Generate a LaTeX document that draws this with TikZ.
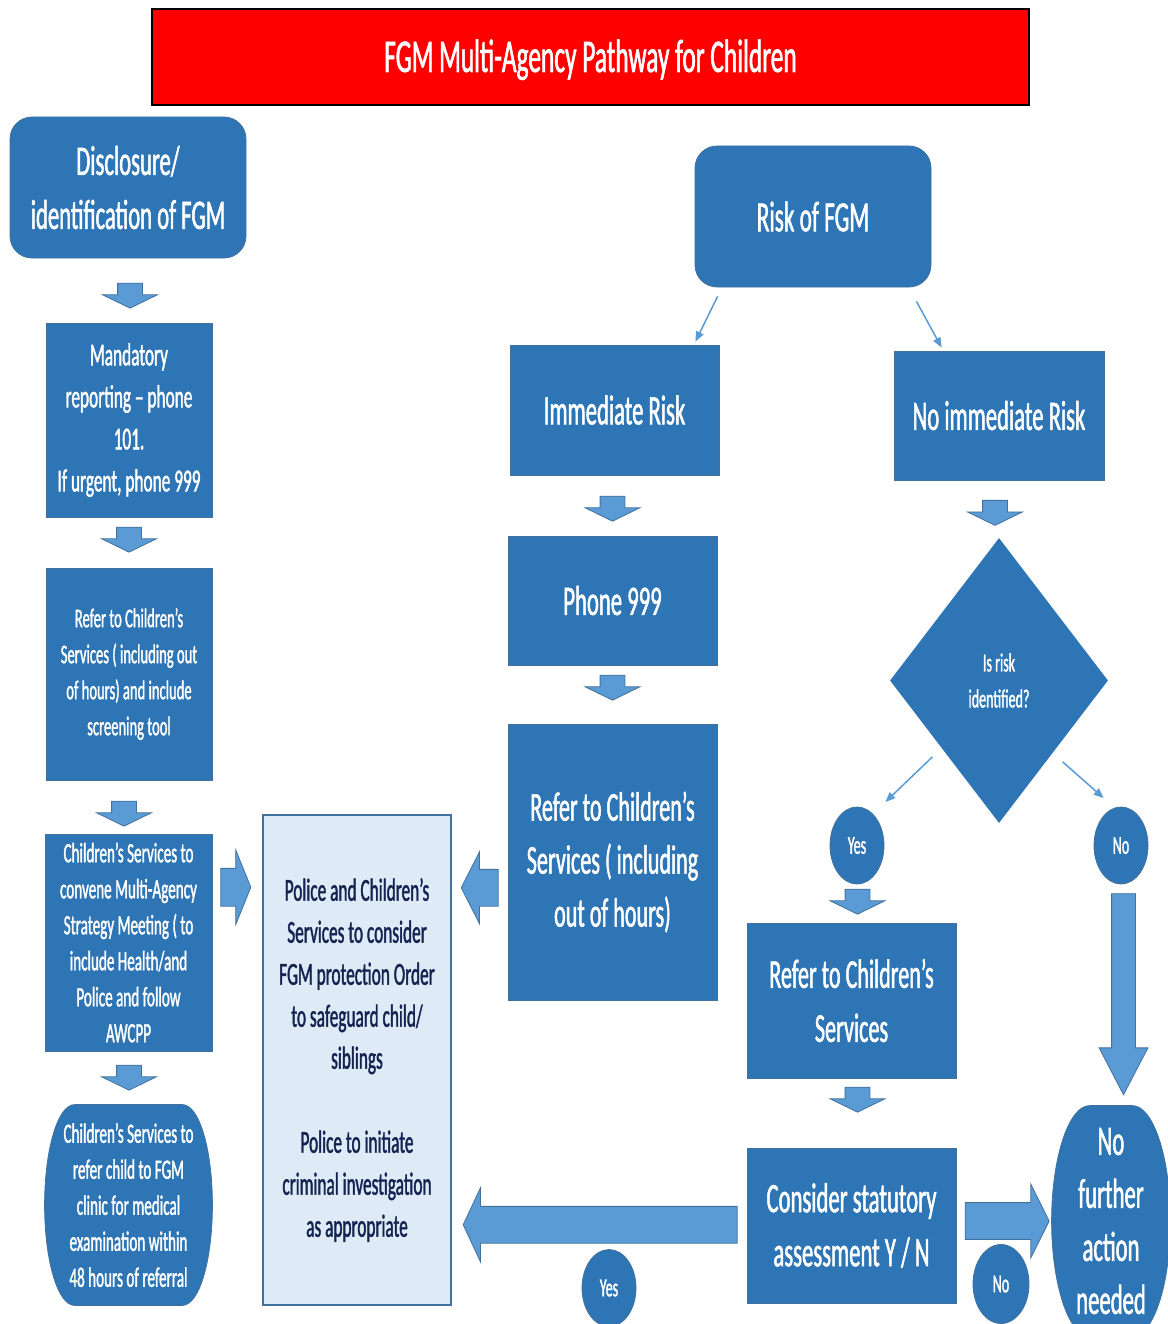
\documentclass[tikz,border=0pt]{standalone}
\usepackage{fontspec}
\setmainfont{Carlito}[FakeStretch=0.54, FakeBold=1.2]
\usepackage{tikz}
\usetikzlibrary{calc,shapes.geometric,shapes.arrows,arrows.meta,backgrounds}

\definecolor{boxblue}{RGB}{46,117,182}
\definecolor{boxedge}{RGB}{65,113,156}
\definecolor{arrowblue}{RGB}{91,155,213}
\definecolor{policefill}{RGB}{222,235,247}
\definecolor{navytext}{RGB}{22,35,80}

\begin{document}
\begin{tikzpicture}[x=1pt, y=-1pt,
    box/.style={rectangle, draw=boxedge, line width=0.8pt, fill=boxblue, text=white, align=center, inner sep=0pt},
    roundbox/.style={box, rounded corners=22pt},
    pilltext/.style={box, draw=none, fill=none},
    pill/.style={draw=boxedge, line width=0.8pt, fill=boxblue},
    yesno/.style={ellipse, draw=boxedge, line width=0.8pt, fill=boxblue, text=white, minimum width=54pt, minimum height=77pt, inner sep=0pt, font=\fontsize{26}{30}\selectfont},
    blockarrow/.style={single arrow, draw=boxedge, line width=0.8pt, fill=arrowblue, inner xsep=0pt, anchor=tip},
    smalldown/.style={blockarrow, rotate=-90, inner ysep=12pt, single arrow head extend=15pt, minimum height=25pt, single arrow tip angle=128},
    thinarrow/.style={draw=arrowblue, line width=1.5pt, -{Triangle[length=10pt, width=8pt]}}
]
\clip (0,0) rectangle (1167,1324);

% TITLE
\node[draw=black, line width=2.5pt, fill=red, text=white, minimum width=877pt, minimum height=96pt, text height=30pt, text depth=0pt, font=\fontsize{47}{54}\selectfont] (title) at (590.5,57) {FGM Multi-Agency Pathway for Children};

% LEFT COLUMN
\node[roundbox, minimum width=236pt, minimum height=141pt, font=\fontsize{42}{54}\selectfont] (disc) at (128,187.5) {Disclosure/\\identification of FGM};
\node[box, minimum width=166pt, minimum height=194pt, font=\fontsize{32}{42}\selectfont] (mand) at (129,420) {Mandatory\\reporting – phone\\101.\\If urgent, phone 999};
\node[box, minimum width=166pt, minimum height=212pt, font=\fontsize{27}{36}\selectfont] (lrefer) at (129,674) {Refer to Children’s\\Services ( including out\\of hours) and include\\screening tool};
\node[box, minimum width=167pt, minimum height=217pt, font=\fontsize{28}{36}\selectfont] (strat) at (128.5,942.5) {Children’s Services to\\convene Multi-Agency\\Strategy Meeting ( to\\include Health/and\\Police and follow\\AWCPP};
\node[pilltext, minimum width=167pt, minimum height=200pt, font=\fontsize{28}{36}\selectfont] (clinic) at (128.5,1205) {Children’s Services to\\refer child to FGM\\clinic for medical\\examination within\\48 hours of referral};

% Police box
\node[rectangle, draw=boxedge, line width=1.5pt, fill=policefill, text=navytext, align=center, minimum width=188pt, minimum height=490pt, font=\fontsize{32}{42}\selectfont] (police) at (357,1060) {Police and Children’s\\Services to consider\\FGM protection Order\\to safeguard child/\\siblings\\[42pt]Police to initiate\\criminal investigation\\as appropriate};

% MIDDLE COLUMN
\node[roundbox, minimum width=236pt, minimum height=141pt, font=\fontsize{43}{54}\selectfont] (risk) at (813,216.5) {Risk of FGM};
\node[box, minimum width=209pt, minimum height=130pt, font=\fontsize{42}{54}\selectfont] (immed) at (614.5,410) {Immediate Risk};
\node[box, minimum width=209pt, minimum height=129pt, font=\fontsize{42}{54}\selectfont] (phone) at (612.5,600.5) {Phone 999};
\node[box, minimum width=209pt, minimum height=276pt, font=\fontsize{41}{53}\selectfont] (mrefer) at (612.5,862) {Refer to Children’s\\Services ( including\\out of hours)};

% RIGHT COLUMN
\node[box, minimum width=210pt, minimum height=129pt, font=\fontsize{42}{54}\selectfont] (noimmed) at (999,415.5) {No immediate Risk};
\node[diamond, fill=boxblue, text=white, align=center, minimum width=218pt, minimum height=285pt, inner sep=0pt, font=\fontsize{26}{36}\selectfont] (isrisk) at (999,680.5) {Is risk\\identified?};
\node[yesno] (yesc) at (857,845.5) {Yes};
\node[yesno] (noc) at (1121,845.5) {No};
\node[box, minimum width=209pt, minimum height=155pt, font=\fontsize{41}{54}\selectfont] (rrefer) at (851.5,1000.5) {Refer to Children’s\\Services};
\node[box, minimum width=209pt, minimum height=155pt, font=\fontsize{42}{54}\selectfont] (consider) at (851.5,1225.5) {Consider statutory\\assessment Y / N};
\node[pilltext, minimum width=118pt, minimum height=230pt, font=\fontsize{42}{53}\selectfont] (nofurther) at (1111,1221) {No\\further\\action\\needed};
\node[yesno] (yesb) at (609,1288) {Yes};
\node[yesno, minimum width=56pt, minimum height=79pt] (nob) at (1001,1284) {No};

% Pill shapes behind the two end boxes
\begin{scope}[on background layer]
\filldraw[pill] ($(clinic.north west)+(30,0)$) -- ($(clinic.north east)+(-30,0)$)
    .. controls ($(clinic.north east)+(-13,0)$) and ($(clinic.east)+(0,-55)$) .. (clinic.east)
    .. controls ($(clinic.east)+(0,55)$) and ($(clinic.south east)+(-13,0)$) .. ($(clinic.south east)+(-30,0)$)
    -- ($(clinic.south west)+(30,0)$)
    .. controls ($(clinic.south west)+(13,0)$) and ($(clinic.west)+(0,55)$) .. (clinic.west)
    .. controls ($(clinic.west)+(0,-55)$) and ($(clinic.north west)+(13,0)$) .. ($(clinic.north west)+(30,0)$) -- cycle;
\filldraw[pill] ($(nofurther.north west)+(38,0)$) -- ($(nofurther.north east)+(-38,0)$)
    .. controls ($(nofurther.north east)+(-17,0)$) and ($(nofurther.east)+(0,-63)$) .. (nofurther.east)
    .. controls ($(nofurther.east)+(0,63)$) and ($(nofurther.south east)+(-17,0)$) .. ($(nofurther.south east)+(-38,0)$)
    -- ($(nofurther.south west)+(38,0)$)
    .. controls ($(nofurther.south west)+(17,0)$) and ($(nofurther.west)+(0,63)$) .. (nofurther.west)
    .. controls ($(nofurther.west)+(0,-63)$) and ($(nofurther.north west)+(17,0)$) .. ($(nofurther.north west)+(38,0)$) -- cycle;
\end{scope}

% Block arrows down the columns
\node[smalldown] (dn1) at ($(mand.north)+(1,-14)$) {};
\node[smalldown] (dn2) at ($(lrefer.north)+(0,-15)$) {};
\node[smalldown] (dn3) at ($(strat.north)+(-4.5,-7)$) {};
\node[smalldown] (dn4) at ($(clinic.north)+(0.5,-14)$) {};
\node[smalldown] (dn5) at ($(phone.north)+(0,-14)$) {};
\node[smalldown] (dn6) at ($(mrefer.north)+(0,-23)$) {};
\node[smalldown] (dn7) at ($(isrisk.north)+(-4,-12)$) {};
\node[smalldown] (dn8) at ($(rrefer.north)+(6,-8)$) {};
\node[smalldown] (dn9) at ($(consider.north)+(6,-35)$) {};

% Block arrows into the police box
\node[blockarrow, inner ysep=18.5pt, single arrow head extend=18.5pt, minimum height=30pt, single arrow tip angle=136] (topolice) at ($(police.north west)+(-11,73)$) {};
\node[blockarrow, rotate=180, inner ysep=18pt, single arrow head extend=17.5pt, minimum height=37pt, single arrow tip angle=126] (frommid) at ($(police.north east)+(9,73.5)$) {};
\node[blockarrow, rotate=180, inner ysep=18pt, single arrow head extend=18.5pt, minimum height=274pt, single arrow tip angle=130] (yesleft) at ($(police.south east)+(11,-81)$) {};

% Block arrows to no further action
\node[blockarrow, rotate=-90, inner ysep=11.5pt, single arrow head extend=12.5pt, minimum height=201pt, single arrow tip angle=55] (nodown) at ($(nofurther.north)+(12.5,-10)$) {};
\node[blockarrow, inner ysep=18pt, single arrow head extend=18.5pt, minimum height=84pt, single arrow tip angle=127] (noright) at ($(nofurther.west)+(-2,0)$) {};

% Thin arrows
\draw[thinarrow] ($(risk.south west)+(23,9)$) -- ($(immed.north east)+(-24,-3)$);
\draw[thinarrow] ($(risk.south east)+(-15,14)$) -- ($(noimmed.north west)+(48,-3)$);
\draw[thinarrow] ($(isrisk.south west)+(-12,5)$) -- ($(yesc.north east)+(9,-16)$);
\draw[thinarrow] ($(isrisk.south east)+(9,10)$) -- ($(noc.north west)+(2,-20)$);

\end{tikzpicture}
\end{document}
